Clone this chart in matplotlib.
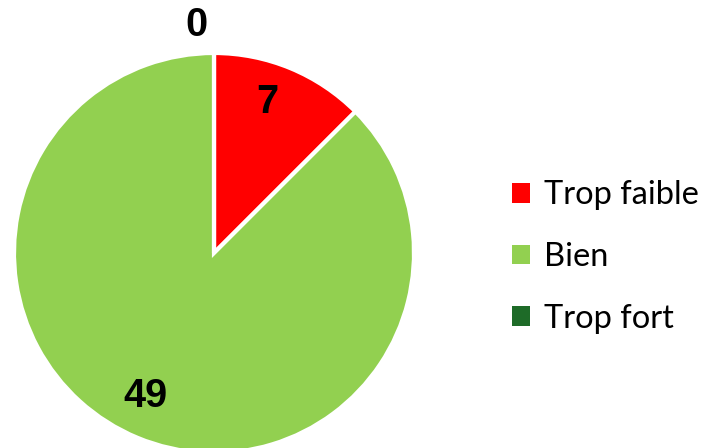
import matplotlib
matplotlib.use("Agg")
import matplotlib.pyplot as plt
from matplotlib.patches import Patch

categories = ["Trop faible", "Bien", "Trop fort"]
values = [7, 49, 0]
colors = ["#FF0000", "#92D050", "#1E6B28"]

fig = plt.figure(figsize=(7.04, 4.48), dpi=100)
W, H = 704, 448
cx, cy, r = 214, 253, 200
ax = fig.add_axes([(cx - r) / W, (H - cy - r) / H, 2 * r / W, 2 * r / H])

wedges, texts, autotexts = ax.pie(
    values, colors=colors, startangle=90, counterclock=False, radius=1,
    autopct=lambda p: f"{round(p * sum(values) / 100):d}", pctdistance=0.79,
    wedgeprops=dict(edgecolor="white", linewidth=3),
    textprops=dict(fontsize=28.5, fontweight="bold", family="Liberation Sans", color="black"),
)
ax.set_xlim(-1, 1)
ax.set_ylim(-1, 1)
ax.set_aspect("equal")
ax.axis("off")
# zero label sits just outside the top of the pie
autotexts[2].set_position((-0.09, 1.14))
autotexts[0].set_position((0.265, 0.755))
autotexts[1].set_position((-0.345, -0.715))

handles = [Patch(facecolor=c, edgecolor="none") for c in colors]
fig.legend(handles, categories, loc="center left", bbox_to_anchor=(512 / W, (H - 257) / H),
           frameon=False, prop=dict(family="Lato", size=23.5),
           handlelength=0.55, handleheight=0.55, handletextpad=0.42, labelspacing=0.97,
           borderaxespad=0, borderpad=0)

fig.savefig("out.png", dpi=100)
